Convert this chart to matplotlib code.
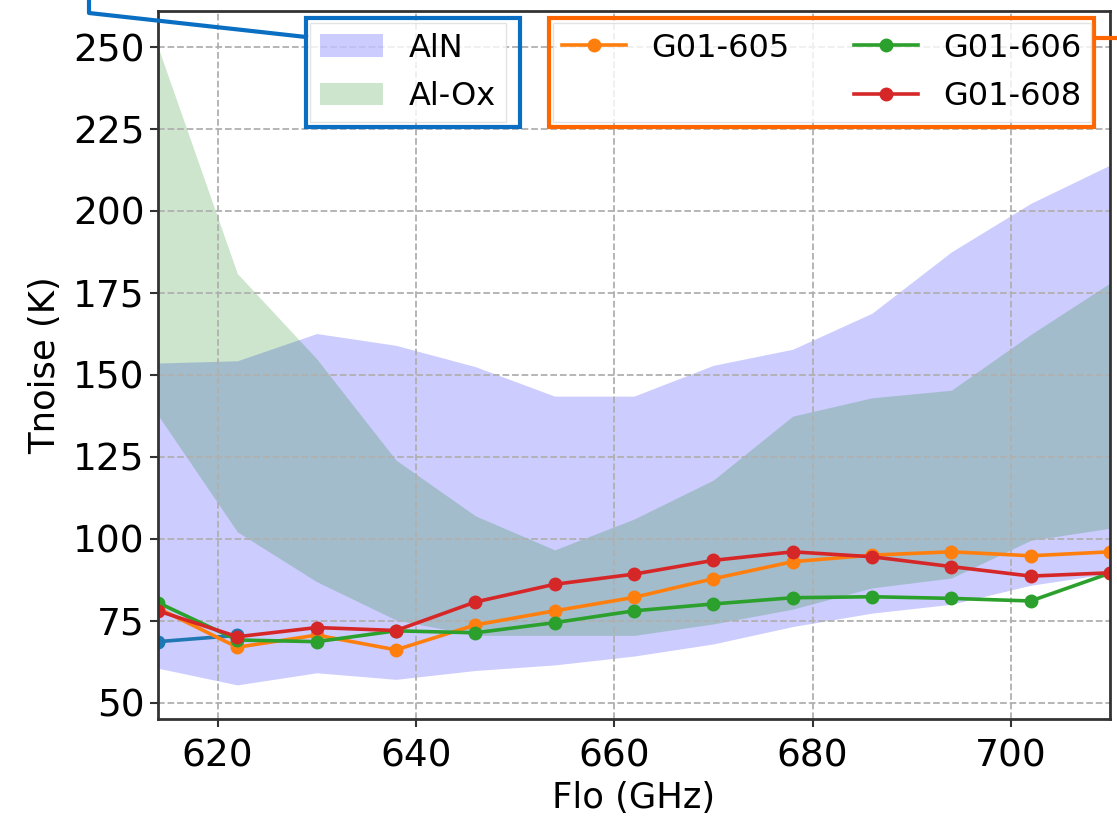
import matplotlib.pyplot as plt
from matplotlib.lines import Line2D
from matplotlib.patches import Rectangle

W, H = 1117, 818
DPI = 100

FREQ = [614, 622, 630, 638, 646, 654, 662, 670, 678, 686, 694, 702, 710]

# shaded ranges
ALN_LO = [60.5, 55.4, 59.1, 57.1, 59.8, 61.5, 64.2, 67.9, 73.2, 77.3, 80.0, 85.8, 89.4]
ALN_HI = [153.6, 154.3, 162.6, 159.0, 152.5, 143.5, 143.5, 152.9, 157.8, 168.8,
          187.5, 202.3, 214.0]
ALOX_LO = [137.7, 102.1, 86.9, 75.2, 70.5, 70.5, 70.5, 74.0, 78.5, 85.0, 88.0,
           99.5, 103.2]
ALOX_HI = [250.0, 180.9, 154.9, 124.0, 107.0, 96.6, 106.0, 117.9, 137.4, 143.0,
           145.3, 162.3, 178.0]

# measured devices
FREQ_REF = [614, 622]
T_REF = [68.6, 70.5]
T_605 = [78.8, 66.9, 70.6, 66.1, 73.7, 78.0, 82.1, 87.8, 93.0, 95.0, 96.0, 94.8, 96.0]
T_606 = [80.5, 69.1, 68.6, 71.9, 71.3, 74.4, 78.0, 80.1, 82.0, 82.3, 81.8, 81.0, 89.5]
T_608 = [78.0, 70.1, 72.9, 72.0, 80.7, 86.1, 89.2, 93.4, 96.0, 94.5, 91.5, 88.6, 89.6]

XTICKS = [620, 640, 660, 680, 700]
YTICKS = [50, 75, 100, 125, 150, 175, 200, 225, 250]

BOX_BLUE = '#0a6fc2'
BOX_ORANGE = '#ff6600'


def fx(px):
    return px / W


def fy(py):
    return 1 - py / H


fig = plt.figure(figsize=(W / DPI, H / DPI), dpi=DPI)
ax = fig.add_axes([fx(158), fy(719), fx(1110) - fx(158), fy(11) - fy(719)])

fill_aln = ax.fill_between(FREQ, ALN_LO, ALN_HI, color='blue', alpha=0.2,
                           linewidth=0, label='AlN')
fill_alox = ax.fill_between(FREQ, ALOX_LO, ALOX_HI, color='green', alpha=0.2,
                            linewidth=0, label='Al-Ox')

kw = dict(marker='o', markersize=9, linewidth=2.6)
ax.plot(FREQ_REF, T_REF, color='C0', **kw)
l605, = ax.plot(FREQ, T_605, color='C1', label='G01-605', **kw)
l606, = ax.plot(FREQ, T_606, color='C2', label='G01-606', **kw)
l608, = ax.plot(FREQ, T_608, color='C3', label='G01-608', **kw)

ax.set_xlim(614, 710)
ax.set_ylim(45, 261)
ax.set_xticks(XTICKS)
ax.set_yticks(YTICKS)
ax.tick_params(labelsize=27, length=6, width=1.5, color='#333333')
ax.tick_params(axis='x', pad=8)
ax.set_xlabel('Flo (GHz)', fontsize=25.5, labelpad=5)
ax.set_ylabel('Tnoise (K)', fontsize=25.5, labelpad=8)
ax.grid(True, linestyle='--', color='#b0b0b0', linewidth=1.3)
for s in ax.spines.values():
    s.set_linewidth(2)
    s.set_color('#333333')

leg1 = fig.legend(handles=[fill_aln, fill_alox], loc='upper left',
                  bbox_to_anchor=(fx(310), fy(23)), borderaxespad=0,
                  borderpad=0.3, labelspacing=0.55,
                  fontsize=23, fancybox=False, edgecolor='#dddddd')
blank = Line2D([], [], linestyle='none')
leg2 = fig.legend(handles=[l605, blank, l606, l608],
                  labels=['G01-605', '', 'G01-606', 'G01-608'],
                  ncol=2, loc='upper right',
                  bbox_to_anchor=(fx(1091), fy(23)), borderaxespad=0,
                  borderpad=0.3, labelspacing=0.55,
                  fontsize=23, fancybox=False, edgecolor='#dddddd')

# highlight boxes and leader lines
fig.add_artist(Rectangle((fx(306), fy(127)), fx(520) - fx(306), fy(18) - fy(127),
                         transform=fig.transFigure, fill=False,
                         edgecolor=BOX_BLUE, linewidth=3))
fig.add_artist(Line2D([fx(89), fx(89), fx(306)], [fy(0), fy(13), fy(37)],
                      transform=fig.transFigure, color=BOX_BLUE, linewidth=3))
fig.add_artist(Rectangle((fx(549), fy(127)), fx(1094) - fx(549), fy(18) - fy(127),
                         transform=fig.transFigure, fill=False,
                         edgecolor=BOX_ORANGE, linewidth=3))
fig.add_artist(Line2D([fx(1094), fx(1117)], [fy(38), fy(38)],
                      transform=fig.transFigure, color=BOX_ORANGE, linewidth=3))

fig.savefig('out.png', dpi=DPI)
